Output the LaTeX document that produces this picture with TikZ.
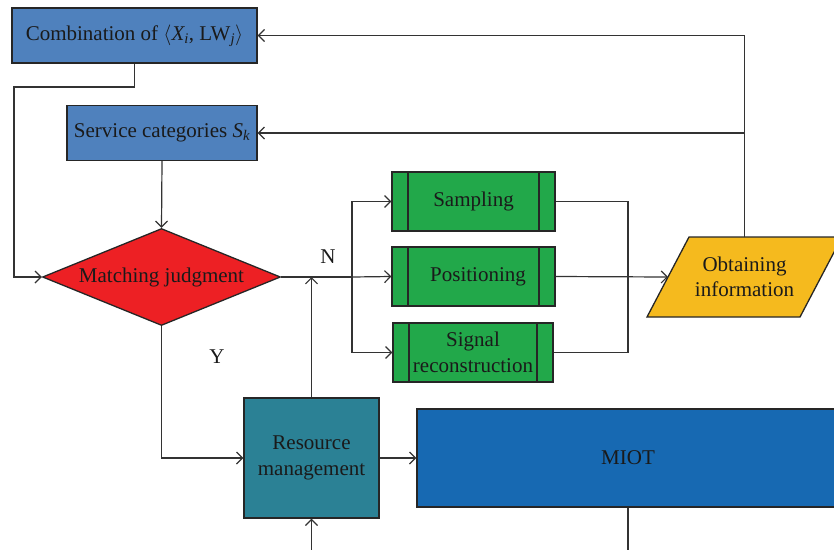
\documentclass[tikz,border=0pt]{standalone}
\usepackage{fontspec}
\setmainfont{Liberation Serif}
\usepackage{tikz}
\usetikzlibrary{arrows.meta,shapes.geometric}
\definecolor{ink}{HTML}{1A1A1A}
\definecolor{edge}{HTML}{262626}
\definecolor{wire}{HTML}{333333}
\definecolor{paleblue}{HTML}{4F81BD}
\definecolor{judgered}{HTML}{ED2024}
\definecolor{procgreen}{HTML}{22A84A}
\definecolor{infoyellow}{HTML}{F5BA1E}
\definecolor{resteal}{HTML}{2B8195}
\definecolor{miotblue}{HTML}{1769B2}
\tikzset{
  blk/.style={draw=edge,line width=1.3pt,text=ink,align=center,inner sep=2pt,font=\fontsize{21}{25.5}\selectfont},
  catbox/.style={blk,fill=paleblue,minimum height=55pt},
  judge/.style={blk,diamond,fill=judgered,aspect=2.45,minimum width=238pt,minimum height=97pt,inner sep=0pt},
  proc/.style={blk,fill=procgreen,minimum height=59pt,
    path picture={\draw[line width=1.3pt,edge]
      ([xshift=16pt]path picture bounding box.north west) -- ([xshift=16pt]path picture bounding box.south west)
      ([xshift=-16pt]path picture bounding box.north east) -- ([xshift=-16pt]path picture bounding box.south east);}},
  infobox/.style={draw=edge,line width=1.3pt,fill=infoyellow},
  wirearrow/.style={-{Straight Barb[length=6pt,width=12pt]},line width=1.2pt,color=wire},
  plain/.style={line width=1.2pt,color=wire},
  tag/.style={text=ink,font=\fontsize{21}{25}\selectfont},
}
\begin{document}
\begin{tikzpicture}[x=1pt,y=-1pt]
  \useasboundingbox (0,0) rectangle (834,549);
  \clip (0,0) rectangle (834,549);
  % boxes
  \node[catbox,minimum width=245pt] (comb) at (134.5,35.5) {Combination of $\langle$\textit{X\textsubscript{i}}, LW\textsubscript{\textit{j}}$\rangle$};
  \node[catbox,minimum width=190pt] (serv) at (162,133) {Service categories \textit{S\textsubscript{k}}};
  \node[judge] (match) at (161.5,277) {Matching judgment};
  \node[proc,minimum width=163pt] (samp) at (473.5,201.5) {Sampling};
  \node[proc,minimum width=163pt] (posi) at (473.5,276.5) {\hspace*{9pt}Positioning};
  \node[proc,minimum width=160pt] (sign) at (473,352.5) {Signal\\reconstruction};
  % parallelogram for the output
  \draw[infobox] (647,317) -- (689,237) -- (842,237) -- (800,317) -- cycle;
  \node[blk,draw=none] (obt) at (744.5,277) {Obtaining\\information};
  \coordinate (obttop) at (744.5,237);
  \coordinate (obtin) at (668,277);
  \node[blk,fill=resteal,minimum width=135pt,minimum height=120pt] (res) at (311.5,458) {Resource\\management};
  \node[blk,fill=miotblue,minimum width=422pt,minimum height=98pt] (miot) at (628,458) {MIOT};
  % labels
  \node[tag] (nlbl) at (328,257) {N};
  \node[tag] (ylbl) at (217,357) {Y};
  % helper points
  \coordinate (kink) at (14,87);
  \coordinate (split) at (352,277);
  \coordinate (join) at (628,277);
  \coordinate (resin) at (311.5,560);
  \coordinate (miotout) at (628,560);
  % connectors
  \draw[wirearrow] (obttop) |- (comb.east);
  \draw[wirearrow] (obttop) |- (serv.east);
  \draw[wirearrow] (comb.south) |- (kink) |- (match.west);
  \draw[wirearrow] (serv.south) -- (match.north);
  \draw[plain] (match.east) -- (split);
  \draw[wirearrow] (split) |- (samp.west);
  \draw[wirearrow] (split) -- (posi.west);
  \draw[wirearrow] (split) |- (sign.west);
  \draw[plain] (samp.east) -| (join);
  \draw[plain] (sign.east) -| (join);
  \draw[wirearrow] (posi.east) -- (obtin);
  \draw[wirearrow] (match.south) |- (res.west);
  \draw[wirearrow] (res.north) -- (res.north |- split);
  \draw[wirearrow] (res.east) -- (miot.west);
  \draw[wirearrow] (resin) -- (res.south);
  \draw[plain] (miot.south) -- (miotout);
\end{tikzpicture}
\end{document}
